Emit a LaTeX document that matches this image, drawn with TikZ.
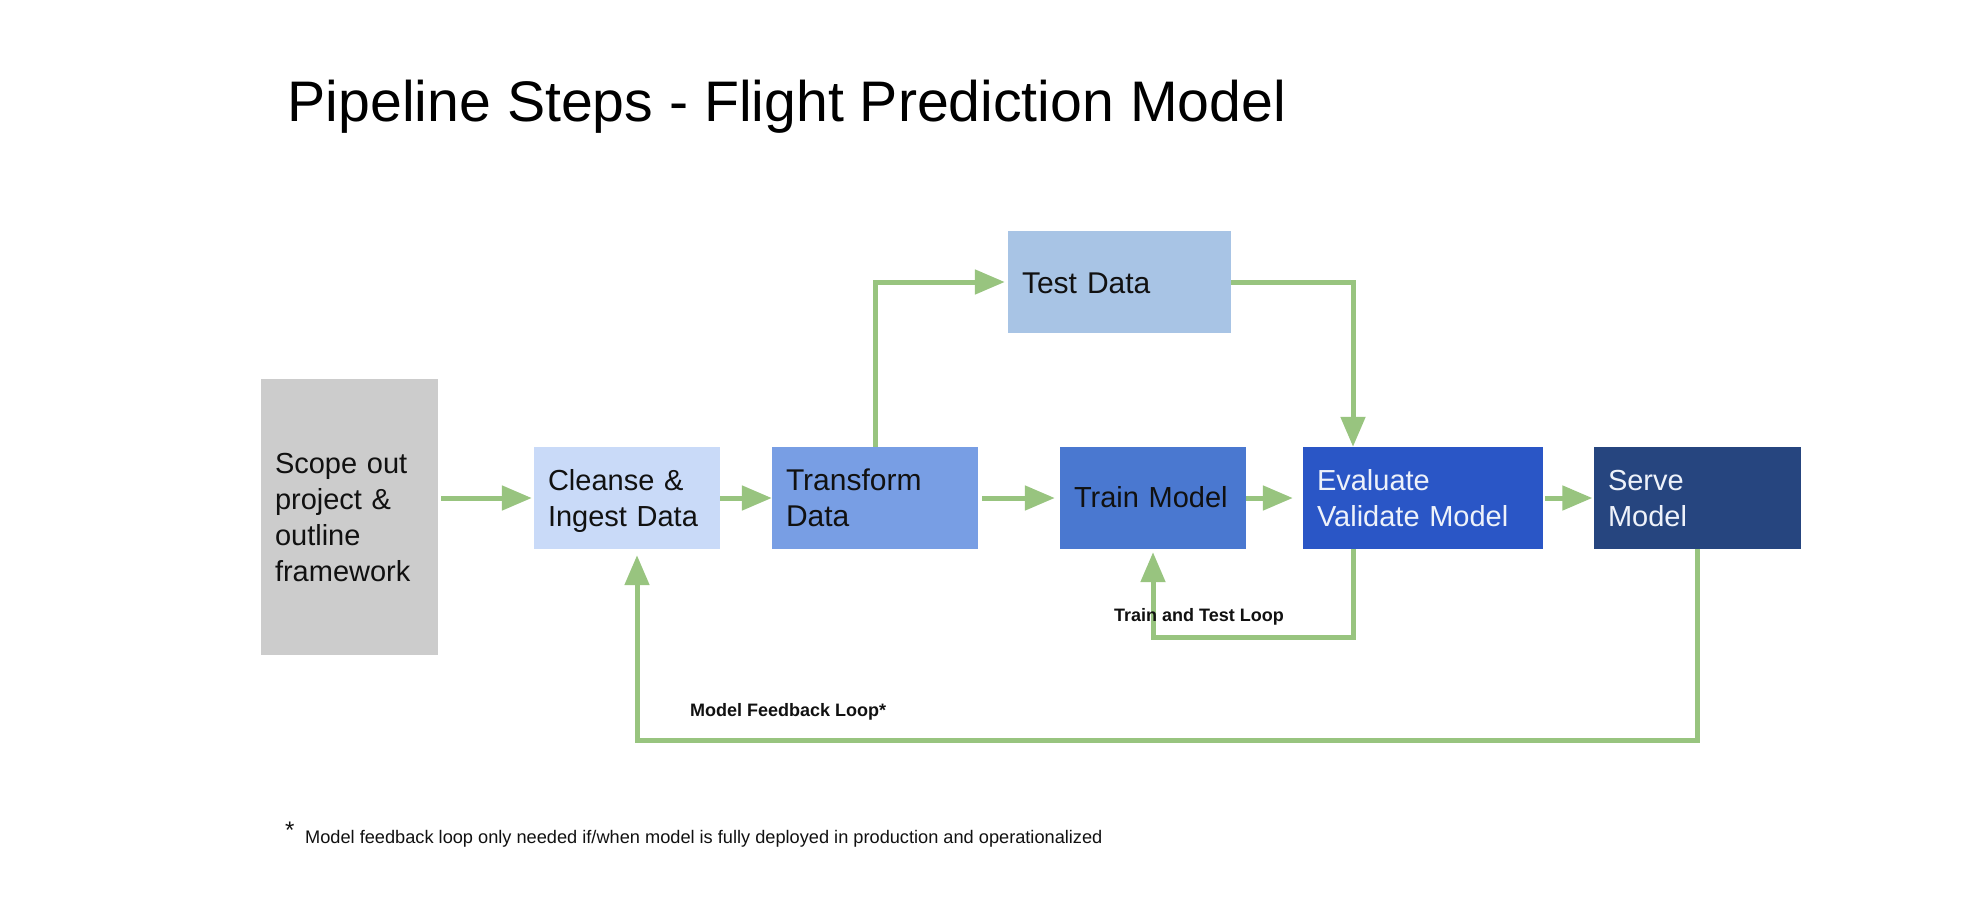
\documentclass[tikz,border=0pt]{standalone}
\usepackage{fontspec}
\setmainfont{Liberation Sans}
\usetikzlibrary{arrows.meta}
\definecolor{scopegray}{HTML}{CCCCCC}
\definecolor{cleansecol}{HTML}{C9DAF8}
\definecolor{transcol}{HTML}{789EE4}
\definecolor{testcol}{HTML}{A8C4E5}
\definecolor{traincol}{HTML}{4A78D0}
\definecolor{evalcol}{HTML}{2A56C6}
\definecolor{servecol}{HTML}{26457F}
\definecolor{arrowgreen}{HTML}{98C47F}
\definecolor{inktext}{HTML}{111111}
\definecolor{lighttext}{HTML}{EEF2FA}
\begin{document}
\begin{tikzpicture}[x=1pt,y=-1pt,
  box/.style={rectangle, inner xsep=14pt, inner ysep=0pt, minimum height=102pt,
    align=left, font=\fontsize{29}{36}\selectfont, text=inktext,
    text height=21pt, text depth=36pt},
  onebox/.style={box, text depth=0pt},
  flow/.style={draw=arrowgreen, line width=5pt, -{Triangle[length=30pt,width=24pt]}},
  lbl/.style={inner sep=0pt, anchor=base west, text=inktext, font=\bfseries\fontsize{18}{22}\selectfont}]
\useasboundingbox[fill=white] (0,0) rectangle (1980,912);

% title
\node[inner sep=0pt, anchor=base west, font=\fontsize{57.2}{68}\selectfont] (title) at (287.5,121.7) {Pipeline Steps - Flight Prediction Model};

% boxes
\node[box, fill=scopegray, text width=149pt, minimum height=276pt, text depth=108pt] (scope) at (349.5,517) {Scope out\\project \&\\outline\\framework};
\node[box, fill=cleansecol, text width=158pt] (cleanse) at (627,498) {Cleanse \&\\Ingest Data};
\node[box, fill=transcol, text width=178pt, font=\fontsize{30}{36}\selectfont] (transform) at (875,498) {Transform\\Data};
\node[onebox, fill=testcol, text width=195pt, font=\fontsize{30}{36}\selectfont, text height=22.6pt] (test) at (1119.5,282) {Test Data};
\node[onebox, fill=traincol, text width=158pt, text height=18pt] (train) at (1153,498) {Train Model};
\node[box, fill=evalcol, text width=212pt, text=lighttext] (evaluate) at (1423,498) {Evaluate\\Validate Model};
\node[box, fill=servecol, text width=179pt, text=lighttext] (serve) at (1697.5,498) {Serve\\Model};

% connectors
\draw[flow, shorten <=3pt, shorten >=2pt] (cleanse.west -| scope.east) -- (cleanse.west);
\draw[flow] (cleanse.east) -- (transform.west);
\draw[flow, shorten <=4pt, shorten >=5pt] (transform.east) -- (train.west);
\draw[flow, shorten >=10pt] (train.east) -- (evaluate.west);
\draw[flow, shorten <=2pt, shorten >=1.5pt] (evaluate.east) -- (serve.west);
\draw[flow, shorten >=3pt] (transform.north) |- (test.west);
\coordinate (evin) at ([xshift=-70pt]evaluate.north);
\coordinate (evout) at ([xshift=-70pt]evaluate.south);
\coordinate (cin) at ([xshift=10pt]cleanse.south);
\draw[flow] (test.east) -| (evin);
\draw[flow, shorten >=3pt] (evout) -- ++(0,88) -| (train.south);
\draw[flow, shorten >=6pt] (serve.south) -- ++(0,191) -| (cin);

% labels
\node[lbl] (ttloop) at (1114,621.7) {Train and Test Loop};
\node[lbl] (fbloop) at (690,716) {Model Feedback Loop*};

% footnote
\node[inner sep=0pt, anchor=base west, text=inktext, font=\fontsize{24}{28}\selectfont] (star) at (285,838) {*};
\node[inner sep=0pt, anchor=base west, text=inktext, font=\fontsize{18.2}{22}\selectfont] (footnote) at (305,843.3) {Model feedback loop only needed if/when model is fully deployed in production and operationalized};
\end{tikzpicture}
\end{document}
